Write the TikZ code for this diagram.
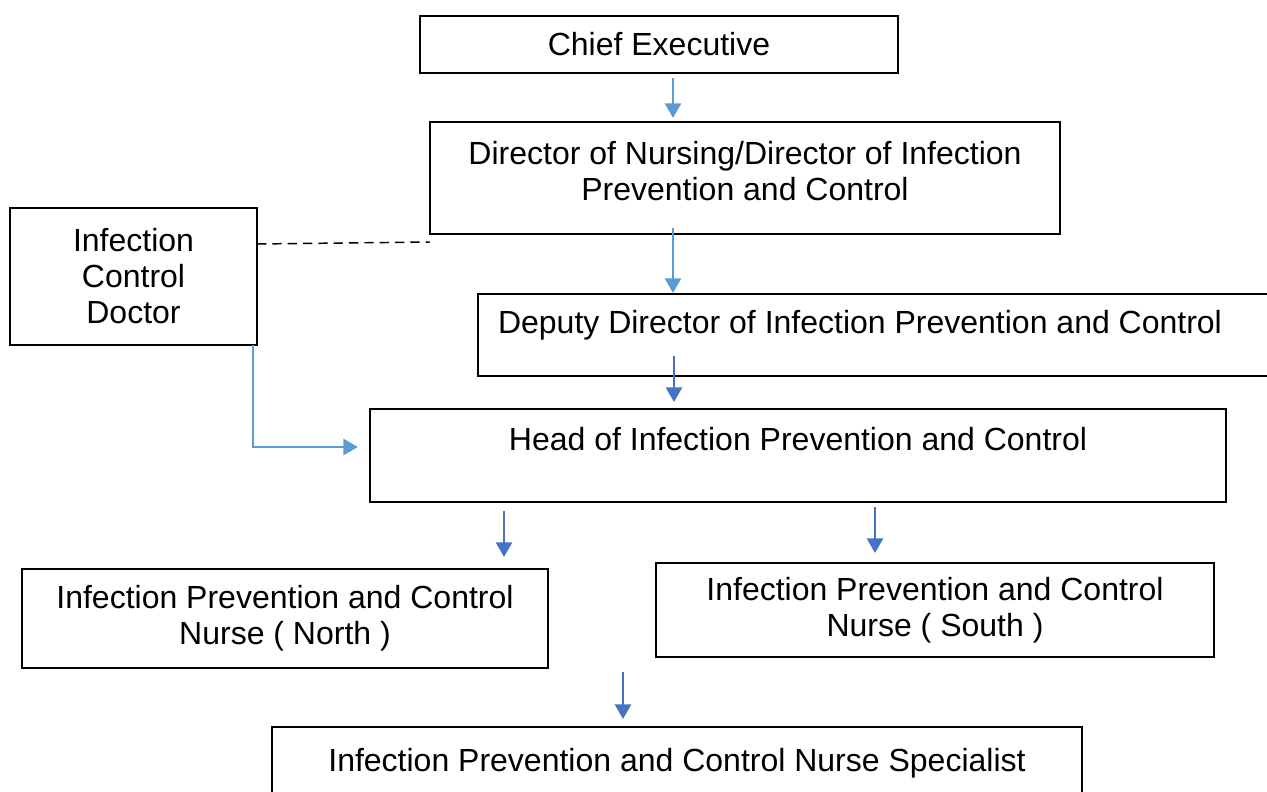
\documentclass[tikz,border=0pt]{standalone}
\usepackage{fontspec}
\setmainfont{Liberation Sans}
\usetikzlibrary{arrows.meta}

\tikzset{every picture/.style={line width=0.75pt}}
\tikzset{
  orgbox/.style={draw, line width=1.2pt, anchor=north west, inner sep=0pt, outer sep=0pt,
    align=center, font=\fontsize{24}{27}\selectfont},
  orgtext/.style={inner sep=0pt, align=center, font=\fontsize{24}{27}\selectfont},
  lightarrow/.style={color={rgb, 255:red, 91; green, 155; blue, 213}, line width=2.1pt,
    -{Triangle[width=12pt,length=11pt]}},
  darkarrow/.style={color={rgb, 255:red, 68; green, 114; blue, 196}, line width=2.1pt,
    -{Triangle[width=12pt,length=11pt]}},
}

\begin{document}
\begin{tikzpicture}[x=0.75pt,y=0.75pt,yscale=-1,xscale=1]
\useasboundingbox (0,0) rectangle (1267,792);

%Shape: Rectangle
\node[orgbox, minimum width=358.5pt, minimum height=42.75pt] (chief) at (420,16) {Chief Executive};
%Shape: Rectangle
\node[orgbox, minimum width=472.5pt, minimum height=84pt] (director) at (430,122) {};
\node[orgtext] (directortext) at (745,171)
  {Director of Nursing/Director of Infection\\Prevention and Control};
%Shape: Rectangle
\node[orgbox, minimum width=609pt, minimum height=61.5pt] (deputy) at (478,294) {};
\node[orgtext] (deputytext) at (860,325) {Deputy Director of Infection Prevention and Control};
%Shape: Rectangle
\node[orgbox, minimum width=642pt, minimum height=69.75pt] (head) at (370,409) {};
\node[orgtext] (headtext) at (798,439) {Head of Infection Prevention and Control};
%Shape: Rectangle
\node[orgbox, minimum width=185.25pt, minimum height=102.75pt] (doctor) at (10,208)
  {Infection\\Control\\Doctor};
%Shape: Rectangle
\node[orgbox, minimum width=394.5pt, minimum height=74.25pt] (north) at (22,569)
  {Infection Prevention and Control\\Nurse ( North )};
%Shape: Rectangle
\node[orgbox, minimum width=418.5pt, minimum height=70.5pt] (south) at (656,563)
  {Infection Prevention and Control\\Nurse ( South )};
%Shape: Rectangle
\node[orgbox, minimum width=607.5pt, minimum height=54.75pt] (specialist) at (272,727)
  {Infection Prevention and Control Nurse Specialist};

%Straight Lines
\draw[lightarrow] ([shift={(253,5)}]chief.south west) -- ([shift={(243,-4)}]director.north west);
\draw[lightarrow] ([shift={(243,-6)}]director.south west) -- ([shift={(195,-1)}]deputy.north west);
\draw[darkarrow] ([shift={(196,-20)}]deputy.south west) -- ([shift={(304,-7)}]head.north west);
\draw[darkarrow] ([shift={(134,9)}]head.south west) -- ([shift={(482,-12)}]north.north west);
\draw[darkarrow] ([shift={(505,5)}]head.south west) -- ([shift={(219,-10)}]south.north west);
\draw[darkarrow] ([shift={(75,4)}]north.south east) -- ([shift={(351,-8)}]specialist.north west);

%Elbow line from the doctor
\draw[lightarrow] ([shift={(-4,0)}]doctor.south east) |- ([shift={(-12,38)}]head.north west);
%Dashed line
\draw[dash pattern=on 7pt off 4.5pt, line width=1.1pt] ([shift={(0,36)}]doctor.north east) -- ([shift={(0,8)}]director.south west);

\end{tikzpicture}
\end{document}
